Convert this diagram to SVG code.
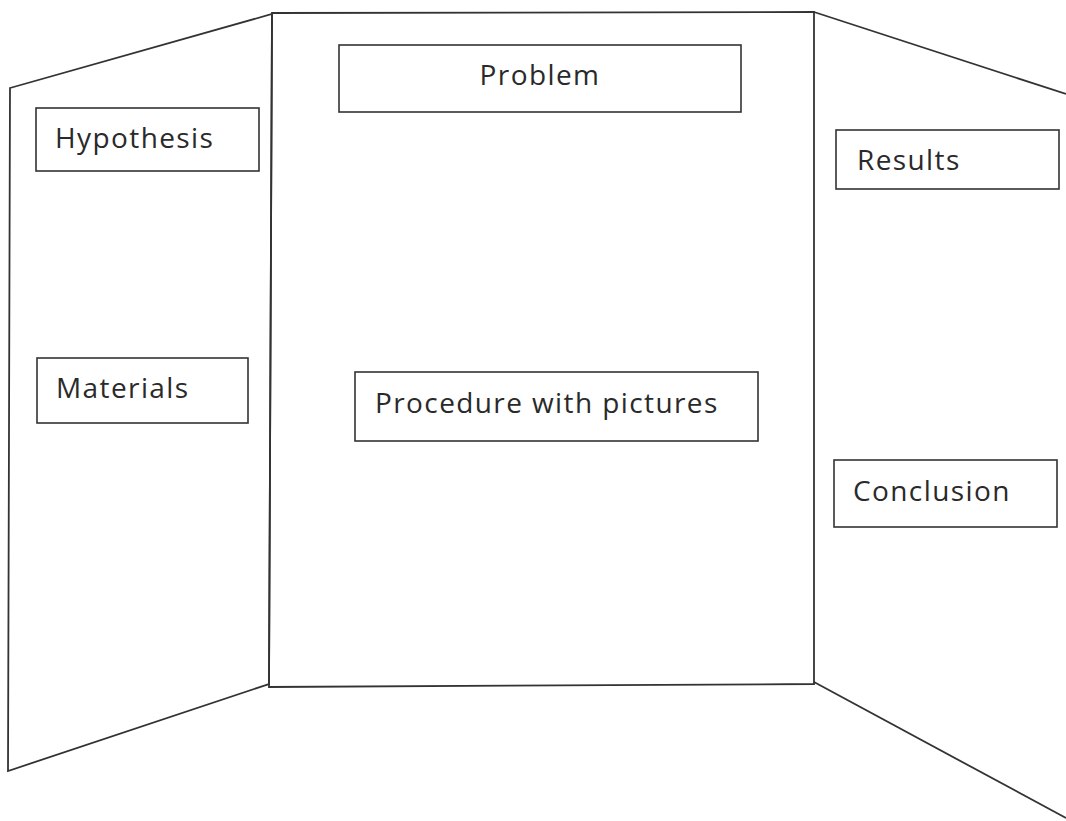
<svg xmlns="http://www.w3.org/2000/svg" width="1066" height="821" viewBox="0 0 1066 821">
<style>
.ln{fill:none;stroke:#333;stroke-width:1.8;stroke-linejoin:miter}
.bx{fill:#fff;stroke:#333;stroke-width:1.6}
.tx{font-family:"Open Sans","Noto Sans",sans-serif;font-size:28px;letter-spacing:1.4px;fill:#2a2a2a}
</style>
<rect width="1066" height="821" fill="#fff"/>
<g id="board">
<polygon class="ln" points="10,88 272,14 269,684 8,771"/>
<polygon class="ln" points="272,13 814,12 814,684 269,687"/>
<polyline class="ln" points="814,12 1066,94"/>
<polyline class="ln" points="814,682 1066,818"/>
</g>
<g id="problem"><rect class="bx" x="339" y="45" width="402" height="67"/><text class="tx" x="540" y="85" text-anchor="middle">Problem</text></g>
<g id="hypothesis"><rect class="bx" x="36" y="108" width="223" height="63"/><text class="tx" x="55" y="148">Hypothesis</text></g>
<g id="results"><rect class="bx" x="836" y="130" width="223" height="59"/><text class="tx" x="857" y="170">Results</text></g>
<g id="materials"><rect class="bx" x="37" y="358" width="211" height="65"/><text class="tx" x="56" y="398">Materials</text></g>
<g id="procedure"><rect class="bx" x="355" y="372" width="403" height="69"/><text class="tx" x="375" y="413">Procedure with pictures</text></g>
<g id="conclusion"><rect class="bx" x="834" y="460" width="223" height="67"/><text class="tx" x="853" y="501">Conclusion</text></g>
<g id="connectors"></g>
</svg>
